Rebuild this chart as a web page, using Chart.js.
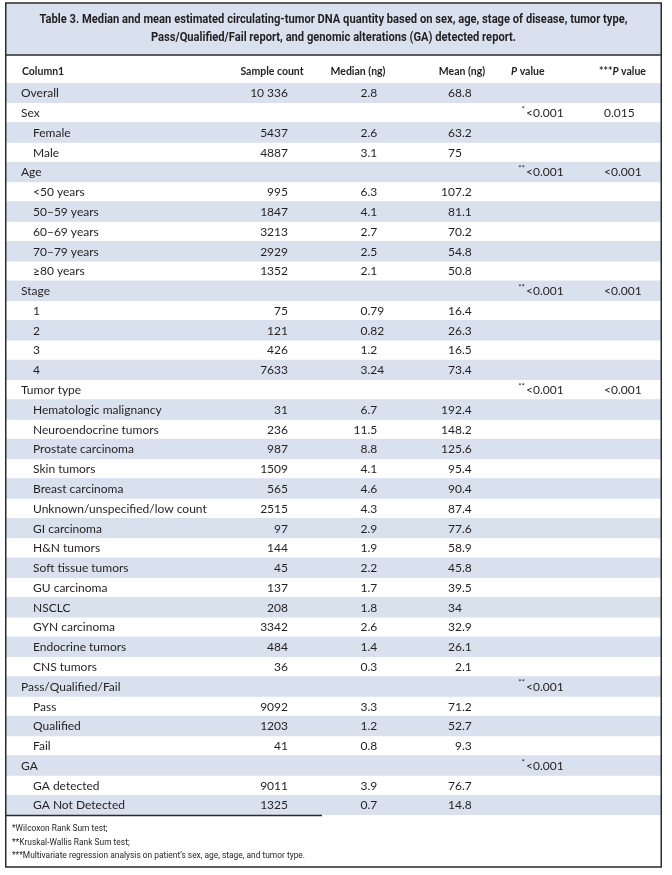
<!DOCTYPE html>
<html><head><meta charset="utf-8">
<script src="https://cdn.jsdelivr.net/npm/chart.js@4.4.1/dist/chart.umd.min.js"></script>
<style>html,body{margin:0;padding:0;background:#fff;}canvas{display:block;}</style>
</head><body>
<canvas id="c" width="672" height="875"></canvas>
<script>
// ---------------- DATA ----------------
const titleLead = 'Table 3.';
const titleLine1 = ' Median and mean estimated circulating-tumor DNA quantity based on sex, age, stage of disease, tumor type,';
const titleLine2 = 'Pass/Qualified/Fail report, and genomic alterations (GA) detected report.';
const columns = ['Column1', 'Sample count', 'Median (ng)', 'Mean (ng)', 'P value', '***P value'];
const rowLabels = [
  'Overall', 'Sex', 'Female', 'Male',
  'Age', '<50 years', '50\u201359 years', '60\u201369 years', '70\u201379 years', '\u226580 years',
  'Stage', '1', '2', '3', '4',
  'Tumor type', 'Hematologic malignancy', 'Neuroendocrine tumors', 'Prostate carcinoma', 'Skin tumors',
  'Breast carcinoma', 'Unknown/unspecified/low count', 'GI carcinoma', 'H&N tumors', 'Soft tissue tumors',
  'GU carcinoma', 'NSCLC', 'GYN carcinoma', 'Endocrine tumors', 'CNS tumors',
  'Pass/Qualified/Fail', 'Pass', 'Qualified', 'Fail',
  'GA', 'GA detected', 'GA Not Detected'
];
const groupRows = ['Overall', 'Sex', 'Age', 'Stage', 'Tumor type', 'Pass/Qualified/Fail', 'GA'];
const sampleCount = [10336, null, 5437, 4887,
  null, 995, 1847, 3213, 2929, 1352,
  null, 75, 121, 426, 7633,
  null, 31, 236, 987, 1509, 565, 2515, 97, 144, 45, 137, 208, 3342, 484, 36,
  null, 9092, 1203, 41,
  null, 9011, 1325];
const medianNg = [2.8, null, 2.6, 3.1,
  null, 6.3, 4.1, 2.7, 2.5, 2.1,
  null, 0.79, 0.82, 1.2, 3.24,
  null, 6.7, 11.5, 8.8, 4.1, 4.6, 4.3, 2.9, 1.9, 2.2, 1.7, 1.8, 2.6, 1.4, 0.3,
  null, 3.3, 1.2, 0.8,
  null, 3.9, 0.7];
const meanNg = [68.8, null, 63.2, 75,
  null, 107.2, 81.1, 70.2, 54.8, 50.8,
  null, 16.4, 26.3, 16.5, 73.4,
  null, 192.4, 148.2, 125.6, 95.4, 90.4, 87.4, 77.6, 58.9, 45.8, 39.5, 34, 32.9, 26.1, 2.1,
  null, 71.2, 52.7, 9.3,
  null, 76.7, 14.8];
const pValue = ['', '<0.001', '', '', '<0.001', '', '', '', '', '', '<0.001', '', '', '', '',
  '<0.001', '', '', '', '', '', '', '', '', '', '', '', '', '', '',
  '<0.001', '', '', '', '<0.001', '', ''];
const pMarks = ['', '*', '', '', '**', '', '', '', '', '', '**', '', '', '', '',
  '**', '', '', '', '', '', '', '', '', '', '', '', '', '', '',
  '**', '', '', '', '*', '', ''];
const mvPValue = ['', '0.015', '', '', '<0.001', '', '', '', '', '', '<0.001', '', '', '', '',
  '<0.001', '', '', '', '', '', '', '', '', '', '', '', '', '', '',
  '', '', '', '', '', '', ''];
const footnotes = [
  '*Wilcoxon Rank Sum test;',
  '**Kruskal-Wallis Rank Sum test;',
  '***Multivariate regression analysis on patient\u2019s sex, age, stage, and tumor type.'
];

// ---------------- STYLE / LAYOUT ----------------
const SHADE = '#d9e1ef';
const INK = '#231f20';
const BORDER = '#2b2b2b';
const X_MAX = 655;
const BODY_FONT = '12px Lato, "Noto Sans", sans-serif';
const HEAD_FONT = 'bold 10.5px Lato, "Noto Sans", sans-serif';
const HEAD_ITALIC = 'italic bold 10.5px Lato, "Noto Sans", sans-serif';
const col = { group: 15, item: 27, sample: 282, median: 361.5, mean: 456, p: 520, mvp: 598 };
const head = { c1: 16, sample: 266, median: 352, mean: 456, p: 505, mvp: 593 };

function fmtCount(v) {
  if (v == null) return '';
  const s = String(v);
  return v >= 10000 ? s.slice(0, s.length - 3) + ' ' + s.slice(-3) : s;
}
function drawDecimal(ctx, v, x, y) {
  if (v == null) return;
  const s = String(v);
  const intPart = s.split('.')[0];
  ctx.textAlign = 'left';
  ctx.fillText(s, x - ctx.measureText(intPart).width, y);
}

const tablePlugin = {
  id: 'tableText',
  beforeDraw(chart) {
    const ctx = chart.ctx;
    ctx.save();
    ctx.fillStyle = '#fff';
    ctx.fillRect(0, 0, chart.width, chart.height);
    ctx.fillStyle = SHADE;
    ctx.fillRect(6, 3, 655, 52);
    ctx.restore();
  },
  afterDraw(chart) {
    const ctx = chart.ctx;
    const xs = chart.scales.x, ys = chart.scales.y;
    const X = v => xs.getPixelForValue(v);
    const top = chart.chartArea.top, bottom = chart.chartArea.bottom;
    ctx.save();
    ctx.fillStyle = INK;
    ctx.textBaseline = 'middle';

    // title (condensed by horizontal scaling)
    const tf = 'bold 13px Roboto, "Liberation Sans", sans-serif';
    ctx.font = tf;
    const w1 = ctx.measureText(titleLead + titleLine1).width;
    const sx = 588 / w1;
    const cx = (X(0) + X(X_MAX)) / 2;
    function scaledText(t, x, y, align) {
      ctx.save(); ctx.translate(x, y); ctx.scale(sx, 1); ctx.textAlign = align; ctx.fillText(t, 0, 0); ctx.restore();
    }
    scaledText(titleLead + titleLine1, cx - w1 * sx / 2, 20, 'left');
    const w2 = ctx.measureText(titleLine2).width;
    scaledText(titleLine2, cx - w2 * sx / 2, 38, 'left');

    // header row
    const hy = top - 11;
    ctx.font = HEAD_FONT;
    ctx.textAlign = 'left'; ctx.fillText(columns[0], X(head.c1), hy);
    ctx.textAlign = 'center';
    ctx.fillText(columns[1], X(head.sample), hy);
    ctx.fillText(columns[2], X(head.median), hy);
    ctx.fillText(columns[3], X(head.mean), hy);
    ctx.textAlign = 'left';
    let px = X(head.p);
    ctx.font = HEAD_ITALIC; ctx.fillText('P', px, hy); px += ctx.measureText('P').width;
    ctx.font = HEAD_FONT; ctx.fillText(columns[4].slice(1), px, hy);
    px = X(head.mvp);
    ctx.font = HEAD_FONT; ctx.fillText('***', px, hy); px += ctx.measureText('***').width;
    ctx.font = HEAD_ITALIC; ctx.fillText('P', px, hy); px += ctx.measureText('P').width;
    ctx.font = HEAD_FONT; ctx.fillText(columns[5].slice(4), px, hy);

    // body rows
    rowLabels.forEach((lab, i) => {
      const y = ys.getPixelForValue(i) + 0.5;
      ctx.font = BODY_FONT;
      ctx.textAlign = 'left';
      ctx.fillText(lab, X(groupRows.includes(lab) ? col.group : col.item), y);
      ctx.textAlign = 'right';
      ctx.fillText(fmtCount(sampleCount[i]), X(col.sample), y);
      drawDecimal(ctx, medianNg[i], X(col.median), y);
      drawDecimal(ctx, meanNg[i], X(col.mean), y);
      if (pValue[i]) {
        ctx.textAlign = 'left';
        ctx.fillText(pValue[i], X(col.p), y);
        ctx.font = '8px Lato, sans-serif';
        ctx.textAlign = 'right';
        ctx.fillText(pMarks[i], X(col.p) - 1, y - 4);
        ctx.font = BODY_FONT;
      }
      if (mvPValue[i]) {
        ctx.textAlign = 'left';
        ctx.fillText(mvPValue[i], X(col.mvp), y);
      }
    });

    // footnotes
    ctx.font = '9.5px Roboto, "Liberation Sans", sans-serif';
    const fw = ctx.measureText(footnotes[2]).width;
    const fsx = 293 / fw;
    footnotes.forEach((t, k) => {
      ctx.save(); ctx.translate(12, bottom + 14 + k * 13.5); ctx.scale(fsx, 1);
      ctx.textAlign = 'left'; ctx.fillText(t, 0, 0); ctx.restore();
    });

    // rules and frame
    ctx.strokeStyle = BORDER;
    ctx.lineWidth = 1.5;
    ctx.strokeRect(5.75, 3, 655.5, 864);
    ctx.beginPath(); ctx.moveTo(5, 55); ctx.lineTo(662, 55); ctx.stroke();
    ctx.beginPath(); ctx.moveTo(5, bottom + 0.5); ctx.lineTo(322, bottom + 0.5); ctx.stroke();
    ctx.restore();
  }
};

new Chart(document.getElementById('c').getContext('2d'), {
  type: 'bar',
  data: {
    labels: rowLabels,
    datasets: [{
      data: rowLabels.map((_, i) => (i % 2 === 0 ? X_MAX : null)),
      backgroundColor: SHADE,
      borderWidth: 0,
      barPercentage: 1,
      categoryPercentage: 1
    }]
  },
  options: {
    indexAxis: 'y',
    responsive: false,
    animation: false,
    devicePixelRatio: 1,
    events: [],
    layout: { padding: { left: 6, right: 11, top: 83, bottom: 60 } },
    scales: {
      x: { type: 'linear', min: 0, max: X_MAX, display: false },
      y: { type: 'category', display: false, offset: true }
    },
    plugins: { legend: { display: false }, tooltip: { enabled: false } }
  },
  plugins: [tablePlugin]
});
</script>
</body></html>
